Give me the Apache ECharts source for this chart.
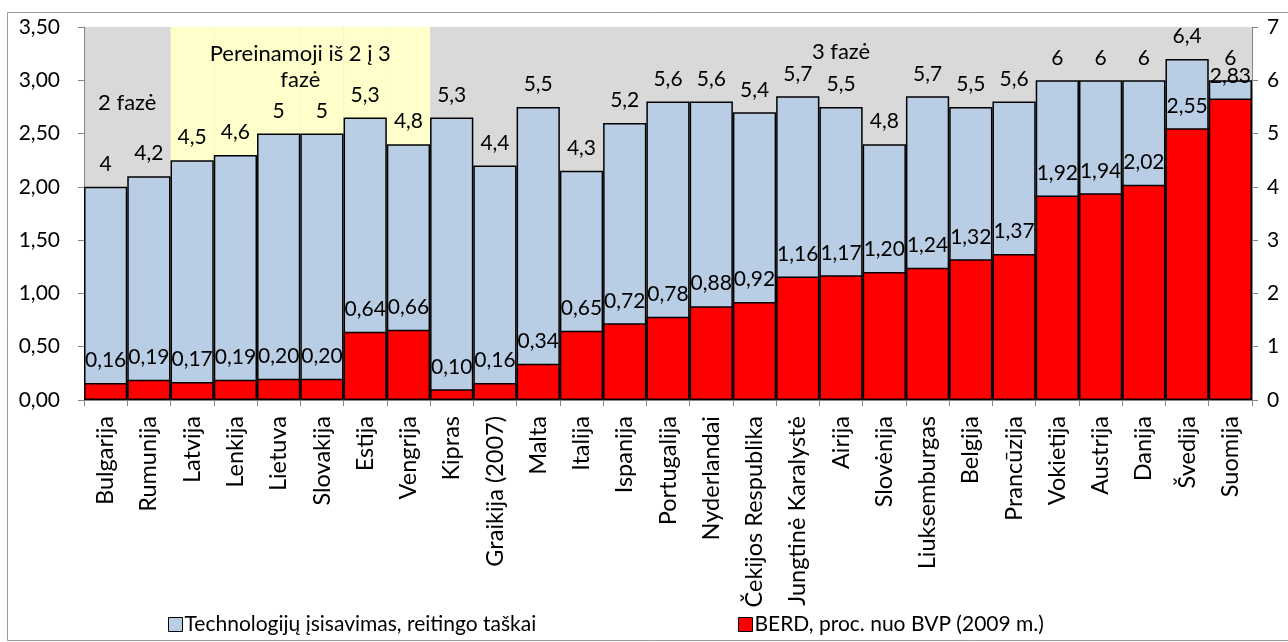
<!DOCTYPE html>
<html>
<head>
<meta charset="utf-8">
<script src="https://cdn.jsdelivr.net/npm/echarts@6/dist/echarts.min.js"></script>
<style>
  html, body { margin: 0; padding: 0; background: #ffffff; }
  #chart { width: 1288px; height: 642px; }
</style>
</head>
<body>
<div id="chart"></div>
<script>
// EU countries ordered by business R&D spending
const countries = [
  'Bulgarija', 'Rumunija', 'Latvija', 'Lenkija', 'Lietuva', 'Slovakija', 'Estija',
  'Vengrija', 'Kipras', 'Graikija (2007)', 'Malta', 'Italija', 'Ispanija', 'Portugalija',
  'Nyderlandai', 'Čekijos Respublika', 'Jungtinė Karalystė', 'Airija', 'Slovėnija',
  'Liuksemburgas', 'Belgija', 'Prancūzija', 'Vokietija', 'Austrija', 'Danija',
  'Švedija', 'Suomija'
];

// Technology absorption, rating points (right axis, 0–7)
const techScores = [
  4, 4.2, 4.5, 4.6, 5, 5, 5.3, 4.8, 5.3, 4.4, 5.5, 4.3, 5.2, 5.6,
  5.6, 5.4, 5.7, 5.5, 4.8, 5.7, 5.5, 5.6, 6, 6, 6, 6.4, 6
];

// BERD, % of GDP in 2009 (left axis, 0–3,5)
const berdShare = [
  0.16, 0.19, 0.17, 0.19, 0.20, 0.20, 0.64, 0.66, 0.10, 0.16, 0.34, 0.65, 0.72, 0.78,
  0.88, 0.92, 1.16, 1.17, 1.20, 1.24, 1.32, 1.37, 1.92, 1.94, 2.02, 2.55, 2.83
];

// Axis scales
const leftAxisMax = 3.5;
const leftAxisStep = 0.5;
const rightAxisMax = 7;
const rightAxisStep = 1;

// Development phases, given as ranges of countries
const phases = [
  { name: '2 fazė', from: 'Bulgarija', to: 'Rumunija' },
  { name: 'Pereinamoji iš 2 į 3\nfazė', from: 'Latvija', to: 'Vengrija', highlight: true },
  { name: '3 fazė', from: 'Kipras', to: 'Suomija' }
];

const seriesNames = ['Technologijų įsisavimas, reitingo taškai', 'BERD, proc. nuo BVP (2009 m.)'];

// ---------------------------------------------------------------------------

const FONT = 'Lato, "Liberation Sans", sans-serif';
const FS = 21;          // value labels, axis labels
const FS_CAT = 23.5;    // country names
const FS_LEGEND = 21;
const FS_PHASE = 22;
const AXIS_GREY = '#868686';

const comma = s => String(s).replace('.', ',');
const fmt2 = v => comma(Number(v).toFixed(2));

// Yellow band behind the transition-phase countries
const bandValues = countries.map(() => '-');
phases.filter(p => p.highlight).forEach(p => {
  const a = countries.indexOf(p.from), b = countries.indexOf(p.to);
  for (let i = a; i <= b; i++) bandValues[i] = leftAxisMax;
});

const chart = echarts.init(document.getElementById('chart'), null, { renderer: 'canvas' });

const grid = { left: 84, right: 36, top: 27, bottom: 242 };

const legendBase = {
  top: 609,
  icon: 'rect', itemWidth: 14, itemHeight: 14, itemGap: 0,
  itemStyle: { borderColor: '#000', borderWidth: 1 },
  textStyle: { fontFamily: FONT, fontSize: FS_LEGEND, color: '#000', padding: [0, 0, 0, -3] }
};

chart.setOption({
  animation: false,
  textStyle: { fontFamily: FONT },
  grid: {
    left: grid.left, right: grid.right, top: grid.top, bottom: grid.bottom,
    show: true, backgroundColor: '#d9d9d9', borderWidth: 0
  },
  legend: [
    Object.assign({ data: [seriesNames[0]], left: 163 }, legendBase),
    Object.assign({ data: [seriesNames[1]], left: 733 }, legendBase)
  ],
  xAxis: {
    type: 'category',
    data: countries,
    boundaryGap: true,
    axisLine: { show: true, lineStyle: { color: AXIS_GREY, width: 1 } },
    axisTick: { show: true, length: 6, lineStyle: { color: AXIS_GREY } },
    axisLabel: {
      interval: 0, rotate: 90, margin: 16,
      fontFamily: FONT, fontSize: FS_CAT, color: '#000'
    },
    splitLine: { show: false }
  },
  yAxis: [
    {
      type: 'value', min: 0, max: leftAxisMax, interval: leftAxisStep,
      axisLine: { show: true, lineStyle: { color: AXIS_GREY } },
      axisTick: { show: true, length: 6, lineStyle: { color: AXIS_GREY } },
      axisLabel: { formatter: fmt2, margin: 24, fontFamily: FONT, fontSize: FS, color: '#000' },
      splitLine: { show: false }
    },
    {
      type: 'value', min: 0, max: rightAxisMax, interval: rightAxisStep, position: 'right',
      axisLine: { show: true, lineStyle: { color: AXIS_GREY } },
      axisTick: { show: true, length: 6, lineStyle: { color: AXIS_GREY } },
      axisLabel: { margin: 15, fontFamily: FONT, fontSize: FS, color: '#000' },
      splitLine: { show: false }
    }
  ],
  series: [
    {
      name: 'band',
      type: 'bar', yAxisIndex: 0,
      data: bandValues,
      barGap: '-100%', barCategoryGap: '0%',
      itemStyle: { color: '#ffffcc', borderColor: '#ffffcc', borderWidth: 1 },
      silent: true, z: 1
    },
    {
      name: seriesNames[0],
      type: 'bar', yAxisIndex: 1,
      data: techScores,
      barGap: '-100%', barCategoryGap: '0%',
      itemStyle: { color: '#b9cde5', borderColor: '#000', borderWidth: 1.5 },
      label: {
        show: true, position: 'top', distance: 12,
        formatter: p => comma(p.value),
        fontFamily: FONT, fontSize: FS, color: '#000'
      },
      z: 2
    },
    {
      name: seriesNames[1],
      type: 'bar', yAxisIndex: 0,
      data: berdShare,
      barGap: '-100%', barCategoryGap: '0%',
      itemStyle: { color: '#ff0000', borderColor: '#000', borderWidth: 1.5 },
      label: {
        show: true, position: 'top', distance: 12,
        formatter: p => fmt2(p.value),
        fontFamily: FONT, fontSize: FS, color: '#000'
      },
      z: 3
    }
  ]
});

// Phase captions centred over their country ranges
const phaseOffsets = [76, 40, 25];
const phaseTexts = phases.map((p, i) => {
  const x0 = chart.convertToPixel({ xAxisIndex: 0 }, p.from);
  const x1 = chart.convertToPixel({ xAxisIndex: 0 }, p.to);
  return {
    type: 'text',
    x: (x0 + x1) / 2,
    y: grid.top + phaseOffsets[i],
    z: 10,
    style: {
      text: p.name,
      font: FS_PHASE + 'px ' + FONT,
      fill: '#000',
      align: 'center',
      verticalAlign: 'middle',
      lineHeight: 26
    }
  };
});

chart.setOption({
  graphic: [
    {
      type: 'rect',
      shape: { x: 7.5, y: 12.5, width: 1300, height: 628 },
      style: { fill: 'none', stroke: '#9a9a9a', lineWidth: 1 },
      z: -10, silent: true
    },
    ...phaseTexts
  ]
});
</script>
</body>
</html>
